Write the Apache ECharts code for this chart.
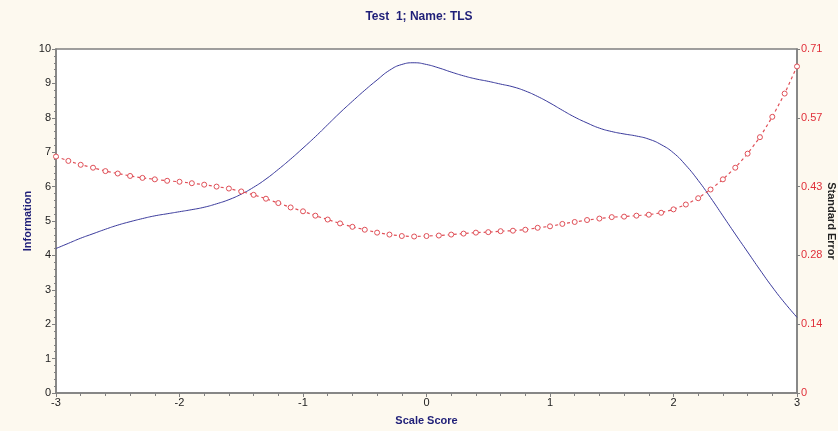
<!DOCTYPE html>
<html>
<head>
<meta charset="utf-8">
<script src="https://cdn.jsdelivr.net/npm/echarts@6/dist/echarts.min.js"></script>
<style>
  html, body { margin: 0; padding: 0; background: #fdf9ef; }
  #main { width: 838px; height: 431px; }
</style>
</head>
<body>
<div id="main"></div>
<script>
// scale score from -3 to 3 in steps of 0.1
var scores = [
  -3.0, -2.9, -2.8, -2.7, -2.6, -2.5, -2.4, -2.3, -2.2, -2.1,
  -2.0, -1.9, -1.8, -1.7, -1.6, -1.5, -1.4, -1.3, -1.2, -1.1,
  -1.0, -0.9, -0.8, -0.7, -0.6, -0.5, -0.4, -0.3, -0.2, -0.1,
  0.0, 0.1, 0.2, 0.3, 0.4, 0.5, 0.6, 0.7, 0.8, 0.9,
  1.0, 1.1, 1.2, 1.3, 1.4, 1.5, 1.6, 1.7, 1.8, 1.9,
  2.0, 2.1, 2.2, 2.3, 2.4, 2.5, 2.6, 2.7, 2.8, 2.9, 3.0
];
var information = [
  4.20, 4.35, 4.50, 4.63, 4.76, 4.88, 4.98, 5.07, 5.15, 5.21,
  5.27, 5.33, 5.40, 5.50, 5.62, 5.78, 5.98, 6.22, 6.50, 6.80,
  7.12, 7.45, 7.80, 8.15, 8.48, 8.80, 9.10, 9.38, 9.55, 9.60,
  9.55, 9.45, 9.33, 9.22, 9.13, 9.06, 8.98, 8.90, 8.78, 8.62,
  8.43, 8.22, 8.02, 7.85, 7.70, 7.60, 7.53, 7.47, 7.38, 7.22,
  6.98, 6.62, 6.18, 5.68, 5.15, 4.62, 4.10, 3.58, 3.08, 2.62, 2.20
];
var stdError = [
  0.488, 0.479, 0.471, 0.465, 0.458, 0.453, 0.448, 0.444, 0.441, 0.438,
  0.436, 0.433, 0.430, 0.426, 0.422, 0.416, 0.409, 0.401, 0.392, 0.383,
  0.375, 0.366, 0.358, 0.350, 0.343, 0.337, 0.331, 0.327, 0.324, 0.323,
  0.324, 0.325, 0.327, 0.329, 0.331, 0.332, 0.334, 0.335, 0.337, 0.341,
  0.344, 0.349, 0.353, 0.357, 0.360, 0.363, 0.364, 0.366, 0.368, 0.372,
  0.379, 0.389, 0.402, 0.420, 0.441, 0.465, 0.494, 0.528, 0.570, 0.618, 0.674
];

var navy = '#1f1f78';
var red = '#e0303a';
var grey = '#808080';

var chart = echarts.init(document.getElementById('main'));

var option = {
  backgroundColor: '#fdf9ef',
  animation: false,
  textStyle: { fontFamily: 'Liberation Sans, Arial, sans-serif' },
  title: {
    text: 'Test  1; Name: TLS',
    left: 'center',
    top: 6,
    textStyle: { color: navy, fontSize: 12, fontWeight: 'bold' }
  },
  grid: {
    left: 56, right: 41, top: 49, bottom: 38,
    outerBoundsMode: 'none',
    containLabel: false,
    show: true,
    backgroundColor: '#ffffff',
    borderColor: grey,
    borderWidth: 1.5
  },
  xAxis: {
    type: 'value',
    min: -3, max: 3, interval: 1,
    name: 'Scale Score',
    nameLocation: 'middle',
    nameGap: 22,
    nameMoveOverlap: false,
    nameTextStyle: { color: navy, fontSize: 11, fontWeight: 'bold' },
    axisLine: { onZero: false, lineStyle: { color: grey, width: 1.5 } },
    axisTick: { show: true, length: 4, lineStyle: { color: grey } },
    minorTick: { show: true, splitNumber: 5, length: 3, lineStyle: { color: grey } },
    splitLine: { show: false },
    axisLabel: { color: '#222', fontSize: 11, margin: 4 }
  },
  yAxis: [{
    type: 'value',
    min: 0, max: 10, interval: 1,
    name: 'Information',
    nameLocation: 'middle',
    nameGap: 23,
    nameMoveOverlap: false,
    nameTextStyle: { color: navy, fontSize: 11, fontWeight: 'bold' },
    axisLine: { show: true, onZero: false, lineStyle: { color: grey, width: 1.5 } },
    axisTick: { show: true, length: 4, lineStyle: { color: grey } },
    minorTick: { show: true, splitNumber: 5, length: 2, lineStyle: { color: grey } },
    splitLine: { show: false },
    axisLabel: { color: '#222', fontSize: 11, margin: 5 }
  }, {
    type: 'value',
    position: 'right',
    min: 0, max: 0.71, interval: 0.142,
    name: 'Standard Error',
    nameLocation: 'middle',
    nameGap: 29,
    nameRotate: -90,
    nameMoveOverlap: false,
    nameTextStyle: { color: '#222', fontSize: 11, fontWeight: 'bold' },
    axisLine: { show: true, onZero: false, lineStyle: { color: grey, width: 1.5 } },
    axisTick: { show: true, length: 3, lineStyle: { color: grey } },
    splitLine: { show: false },
    axisLabel: {
      color: red, fontSize: 11, margin: 4,
      formatter: function (v) { return v === 0 ? '0' : v.toFixed(2); }
    }
  }],
  series: [{
    name: 'Information',
    type: 'line',
    yAxisIndex: 0,
    smooth: true,
    symbol: 'none',
    lineStyle: { color: '#3a3a9c', width: 1 },
    data: scores.map(function (s, i) { return [s, information[i]]; })
  }, {
    name: 'Standard Error',
    type: 'line',
    yAxisIndex: 1,
    symbol: 'circle',
    symbolSize: 5,
    showAllSymbol: true,
    itemStyle: { color: '#ffffff', borderColor: '#e05058', borderWidth: 1 },
    lineStyle: { color: '#e05058', width: 1.2, type: [3, 3] },
    data: scores.map(function (s, i) { return [s, stdError[i]]; })
  }]
};

chart.setOption(option);
</script>
</body>
</html>
